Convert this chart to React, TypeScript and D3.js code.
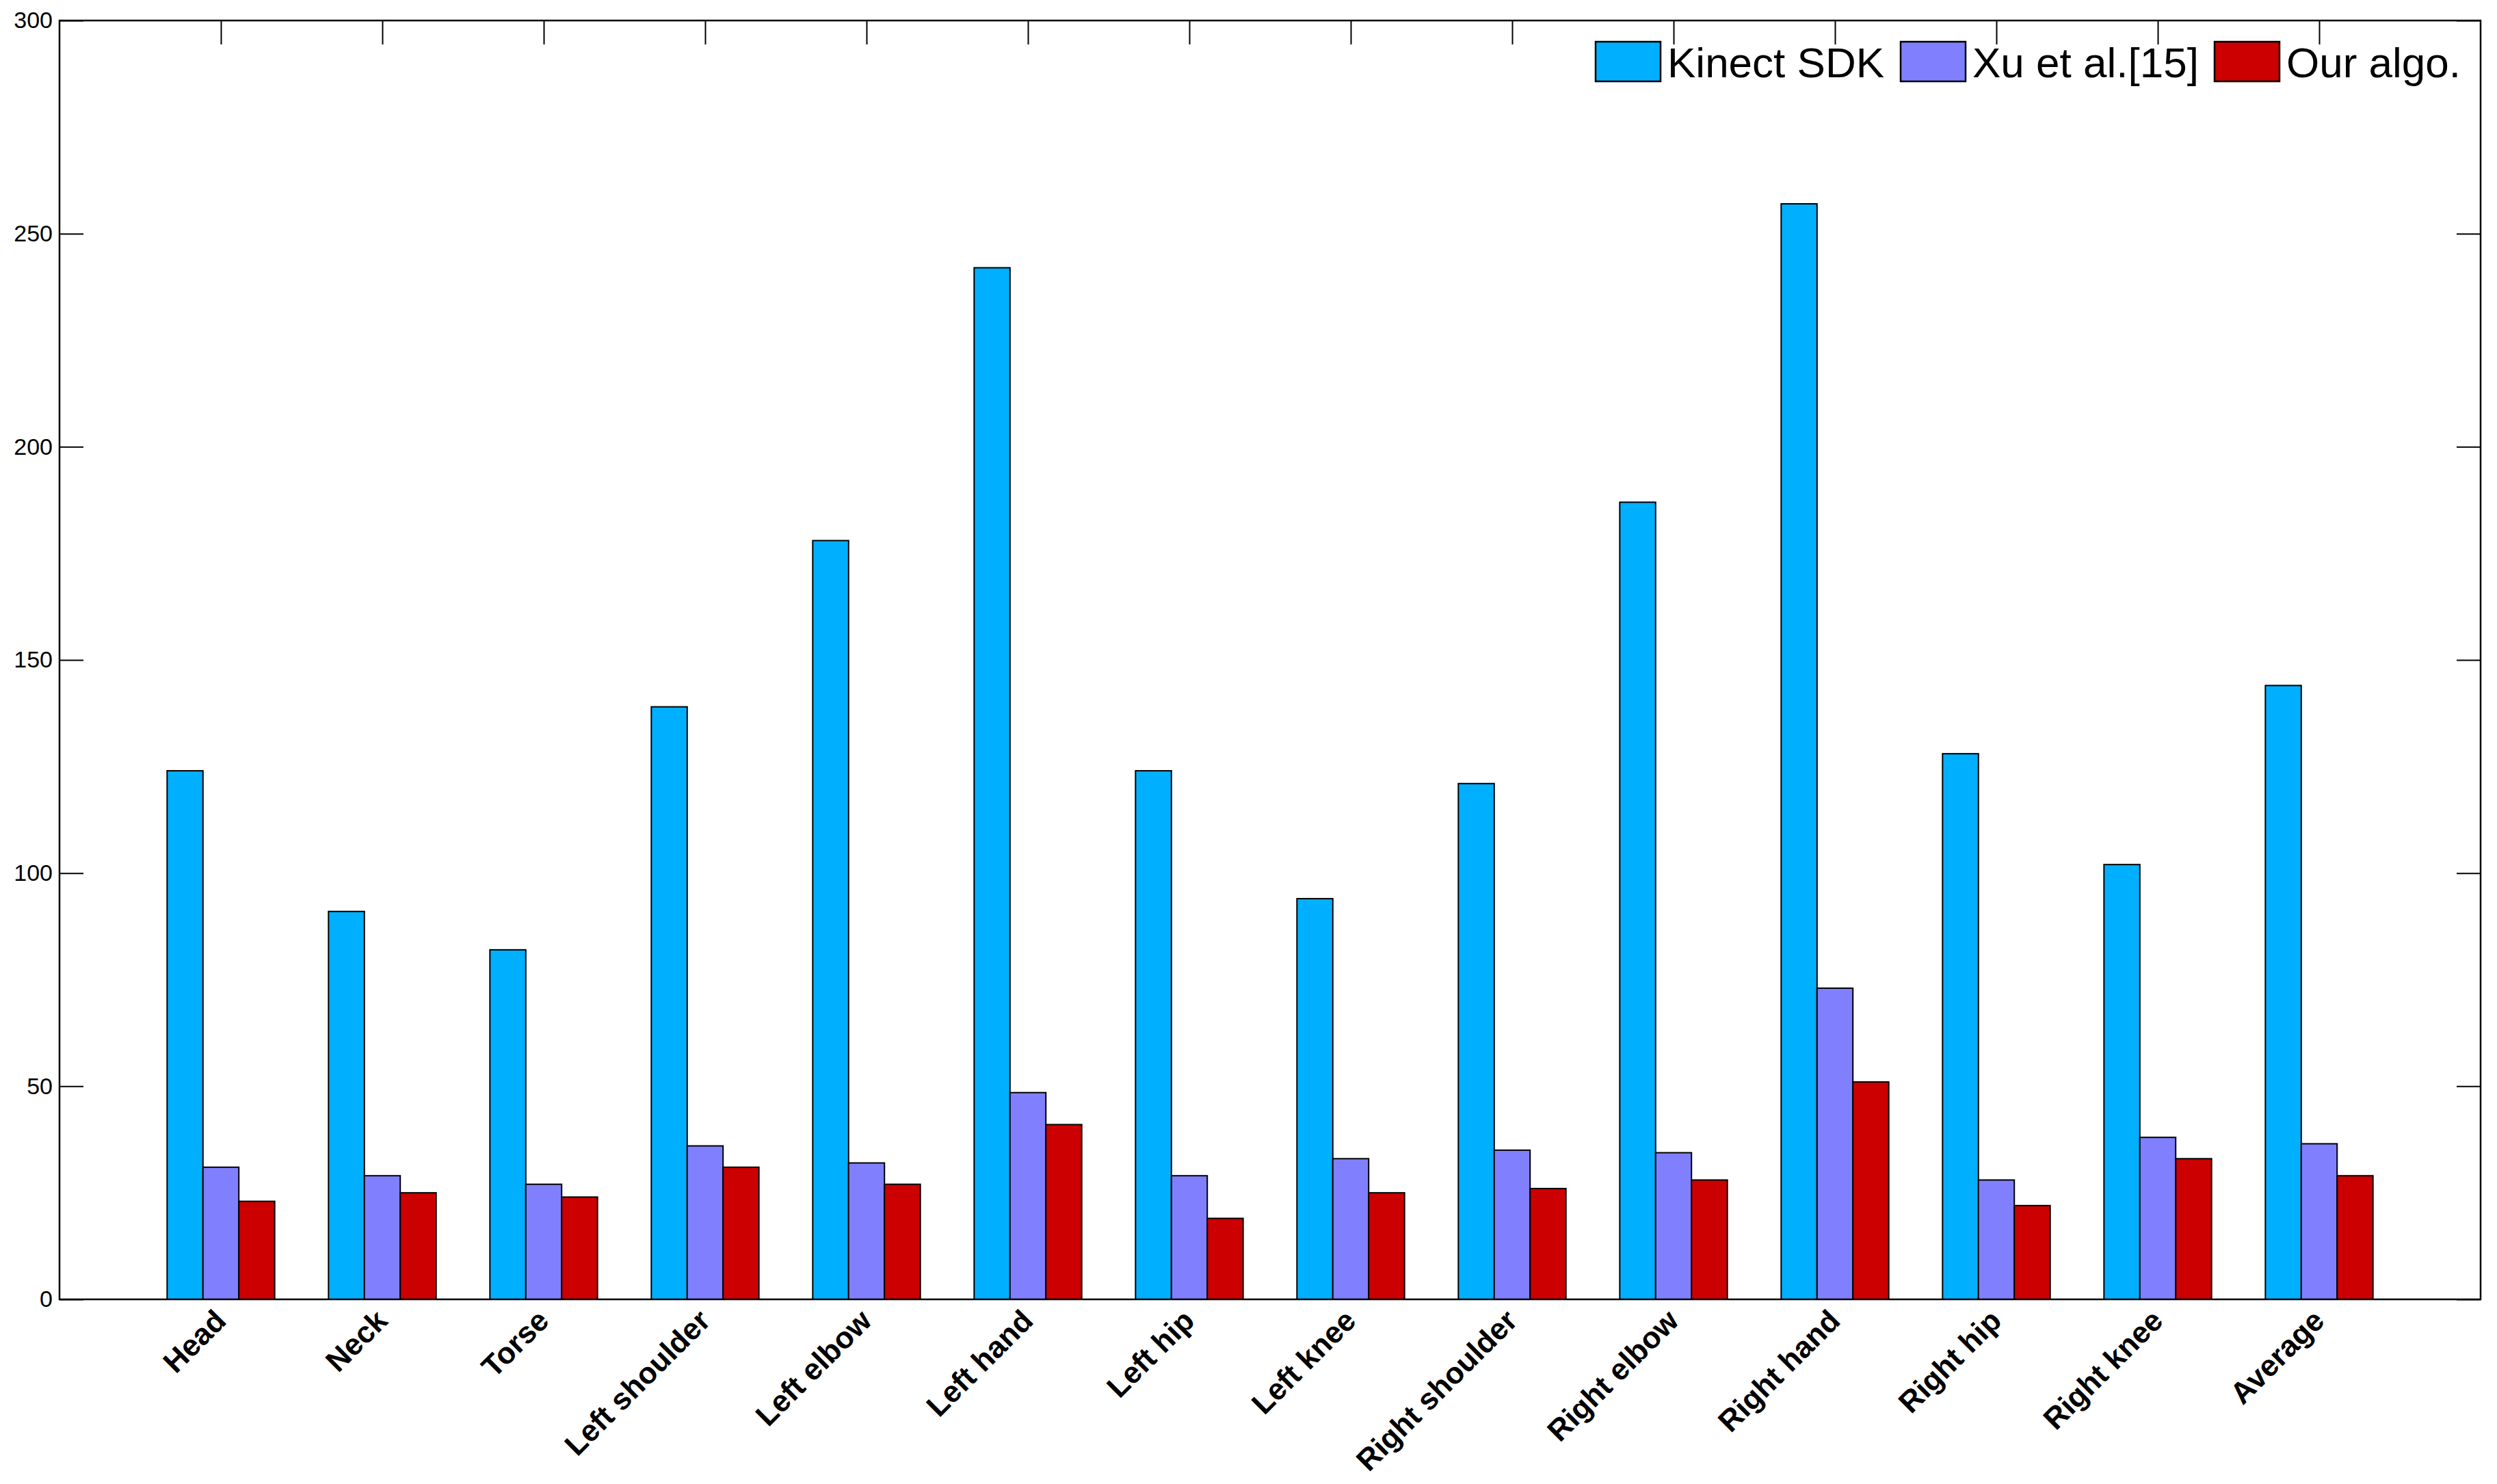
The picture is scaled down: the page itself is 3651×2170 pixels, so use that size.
import { useEffect, useRef } from "react";
import * as d3 from "d3";

// joint names along the x axis
const categories = [
  "Head",
  "Neck",
  "Torse",
  "Left shoulder",
  "Left elbow",
  "Left hand",
  "Left hip",
  "Left knee",
  "Right shoulder",
  "Right elbow",
  "Right hand",
  "Right hip",
  "Right knee",
  "Average",
];

const kinectSDK = [124, 91, 82, 139, 178, 242, 124, 94, 121, 187, 257, 128, 102, 144];
const xuEtAl = [31, 29, 27, 36, 32, 48.5, 29, 33, 35, 34.4, 73, 28, 38, 36.5];
const ourAlgo = [23, 25, 24, 31, 27, 41, 19, 25, 26, 28, 51, 22, 33, 29];

const seriesNames = ["Kinect SDK", "Xu et al.[15]", "Our algo."];
const seriesColors = ["#00B0FF", "#8080FF", "#CC0000"];

const yTicks = [0, 50, 100, 150, 200, 250, 300];

const FONT = "'Liberation Sans', Arial, Helvetica, sans-serif";

const BarChart = () => {
  const d3Container = useRef(null);

  const width = 3651;
  const height = 2170;
  const margin = { top: 30, right: 24, bottom: 270, left: 87 };
  const tickLen = 35;

  useEffect(() => {
    const svg = d3.select(d3Container.current);
    svg.selectAll("*").remove();

    const series = [kinectSDK, xuEtAl, ourAlgo];
    const n = series.length;
    const groupWidth = Math.min(0.8, n / (n + 1.5));
    const barW = groupWidth / n;

    const x = d3
      .scaleLinear()
      .domain([0, categories.length + 1])
      .range([margin.left, width - margin.right]);
    const y = d3
      .scaleLinear()
      .domain([0, 300])
      .range([height - margin.bottom, margin.top]);

    svg
      .append("rect")
      .attr("width", width)
      .attr("height", height)
      .attr("fill", "white");

    const pos = d3.range(1, categories.length + 1);

    // ticks (drawn under the bars, like matlab's bottom layer)
    const left = svg
      .append("g")
      .attr("transform", `translate(${margin.left},0)`)
      .call(
        d3
          .axisLeft(y)
          .tickValues(yTicks)
          .tickSizeInner(-tickLen)
          .tickSizeOuter(0)
          .tickPadding(10)
      );
    left.select(".domain").remove();
    left
      .selectAll("text")
      .attr("font-family", FONT)
      .attr("font-size", 34)
      .attr("fill", "#000");
    left.selectAll("line").attr("stroke", "#000").attr("stroke-width", 2);

    const right = svg
      .append("g")
      .attr("transform", `translate(${width - margin.right},0)`)
      .call(
        d3
          .axisRight(y)
          .tickValues(yTicks)
          .tickSizeInner(-tickLen)
          .tickSizeOuter(0)
          .tickFormat(() => "")
      );
    right.select(".domain").remove();
    right.selectAll("line").attr("stroke", "#000").attr("stroke-width", 2);

    const top = svg
      .append("g")
      .attr("transform", `translate(0,${margin.top})`)
      .call(
        d3
          .axisTop(x)
          .tickValues(pos)
          .tickSizeInner(-tickLen)
          .tickSizeOuter(0)
          .tickFormat(() => "")
      );
    top.select(".domain").remove();
    top.selectAll("line").attr("stroke", "#000").attr("stroke-width", 2);

    // bars
    series.forEach((vals, s) => {
      svg
        .append("g")
        .attr("fill", seriesColors[s])
        .attr("stroke", "#000")
        .attr("stroke-width", 2)
        .selectAll("rect")
        .data(vals)
        .join("rect")
        .attr("x", (d, i) => x(i + 1 - groupWidth / 2 + s * barW))
        .attr("width", x(barW) - x(0))
        .attr("y", (d) => y(d))
        .attr("height", (d) => y(0) - y(d));
    });

    // frame
    svg
      .append("rect")
      .attr("x", margin.left)
      .attr("y", margin.top)
      .attr("width", width - margin.right - margin.left)
      .attr("height", height - margin.bottom - margin.top)
      .attr("fill", "none")
      .attr("stroke", "#000")
      .attr("stroke-width", 2.5);

    // rotated category labels
    svg
      .append("g")
      .selectAll("text")
      .data(categories)
      .join("text")
      .attr(
        "transform",
        (d, i) => `translate(${x(i + 1) + 10},${height - margin.bottom + 34}) rotate(-45)`
      )
      .attr("text-anchor", "end")
      .attr("font-family", FONT)
      .attr("font-weight", "bold")
      .attr("font-size", 44)
      .attr("fill", "#000")
      .text((d) => d);

    // legend
    const legendX = [2333, 2779, 3238];
    const lg = svg
      .append("g")
      .selectAll("g")
      .data(seriesNames)
      .join("g")
      .attr("transform", (d, i) => `translate(${legendX[i]},61)`);
    lg.append("rect")
      .attr("width", 95)
      .attr("height", 58)
      .attr("fill", (d, i) => seriesColors[i])
      .attr("stroke", "#000")
      .attr("stroke-width", 2.5);
    lg.append("text")
      .attr("x", 105)
      .attr("y", 52)
      .attr("font-family", FONT)
      .attr("font-size", 62)
      .attr("fill", "#000")
      .text((d) => d);
  }, []);

  return (
    <svg
      ref={d3Container}
      width={width}
      height={height}
      style={{ position: "absolute", left: 0, top: 0, display: "block" }}
    ></svg>
  );
};

export default function App() {
  return <BarChart />;
}
